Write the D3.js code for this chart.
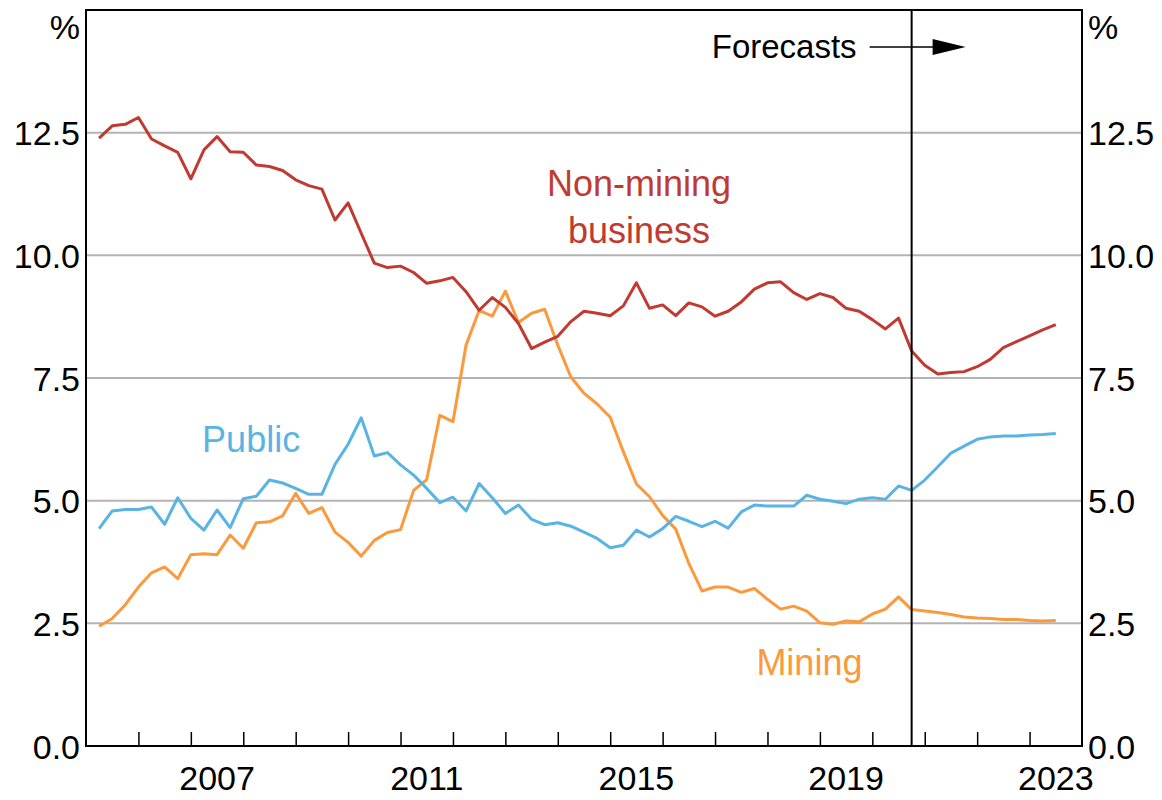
<!DOCTYPE html>
<html>
<head>
<meta charset="utf-8">
<script src="https://cdn.jsdelivr.net/npm/d3@7"></script>
<style>
  body { margin: 0; background: #fff; }
  svg { display: block; }
  text { font-family: "Liberation Sans", Arial, sans-serif; }
</style>
</head>
<body>
<svg id="chart" width="1162" height="800"></svg>
<script>
// Quarterly investment shares, % of GDP
const firstQuarter = 2005.25;   // position of the first observation
const forecastFrom = 2020.75;   // where the forecast period begins

const nonMining = [12.39, 12.64, 12.67, 12.81, 12.37, 12.23, 12.10, 11.56, 12.15, 12.42,
  12.11, 12.10, 11.84, 11.81, 11.73, 11.54, 11.42, 11.35, 10.72, 11.07,
  10.45, 9.84, 9.75, 9.78, 9.65, 9.43, 9.48, 9.55, 9.26, 8.88,
  9.14, 8.94, 8.61, 8.10, 8.23, 8.35, 8.65, 8.86, 8.82, 8.77,
  8.97, 9.44, 8.92, 8.99, 8.77, 9.03, 8.95, 8.76, 8.86, 9.05,
  9.31, 9.44, 9.46, 9.24, 9.10, 9.22, 9.14, 8.92, 8.86, 8.69,
  8.50, 8.72, 8.05, 7.76, 7.58, 7.61, 7.63, 7.73, 7.88, 8.12,
  8.24, 8.36, 8.48, 8.59];

const publicInv = [4.43, 4.79, 4.82, 4.82, 4.87, 4.52, 5.06, 4.64, 4.40, 4.81,
  4.45, 5.04, 5.09, 5.42, 5.36, 5.25, 5.13, 5.13, 5.74, 6.15,
  6.69, 5.91, 5.98, 5.73, 5.52, 5.25, 4.96, 5.07, 4.79, 5.35,
  5.06, 4.74, 4.91, 4.62, 4.51, 4.55, 4.48, 4.36, 4.23, 4.04,
  4.09, 4.40, 4.26, 4.43, 4.68, 4.58, 4.47, 4.58, 4.44, 4.77,
  4.91, 4.89, 4.89, 4.89, 5.11, 5.03, 4.99, 4.94, 5.03, 5.06,
  5.03, 5.30, 5.21, 5.42, 5.69, 5.97, 6.11, 6.25, 6.30, 6.32,
  6.32, 6.34, 6.35, 6.37];

const mining = [2.44, 2.60, 2.88, 3.24, 3.53, 3.65, 3.41, 3.90, 3.92, 3.90,
  4.30, 4.03, 4.55, 4.57, 4.69, 5.15, 4.74, 4.86, 4.36, 4.15,
  3.87, 4.19, 4.35, 4.41, 5.21, 5.43, 6.74, 6.61, 8.17, 8.88,
  8.76, 9.27, 8.63, 8.82, 8.90, 8.17, 7.52, 7.19, 6.97, 6.70,
  6.00, 5.34, 5.08, 4.70, 4.42, 3.72, 3.16, 3.24, 3.24, 3.13,
  3.21, 2.99, 2.79, 2.85, 2.75, 2.51, 2.48, 2.55, 2.53, 2.69,
  2.79, 3.04, 2.78, 2.75, 2.72, 2.68, 2.63, 2.61, 2.60, 2.58,
  2.58, 2.56, 2.55, 2.56];

const yTicks = [0, 2.5, 5, 7.5, 10, 12.5];
const yearLabels = [2007, 2011, 2015, 2019, 2023];

const colours = { nonMining: '#c13a31', publicInv: '#5ab4e3', mining: '#fa9a3d' };

// Layout
const svg = d3.select('#chart');
const margin = { left: 86, top: 10, right: 80, bottom: 54 };
const width = 1162 - margin.left - margin.right;   // 996
const height = 800 - margin.top - margin.bottom;   // 736

const x = d3.scaleLinear().domain([2005, 2024]).range([0, width]);
const y = d3.scaleLinear().domain([0, 15]).range([height, 0]);

const g = svg.append('g').attr('transform', `translate(${margin.left},${margin.top})`);

// gridlines
g.selectAll('.grid').data(yTicks.filter(d => d > 0)).join('line')
  .attr('class', 'grid')
  .attr('x1', 0).attr('x2', width)
  .attr('y1', d => y(d)).attr('y2', d => y(d))
  .attr('stroke', '#b3b3b3').attr('stroke-width', 2);

// series lines
const quarters = d3.range(nonMining.length).map(i => firstQuarter + i * 0.25);
const line = d3.line().x((d, i) => x(quarters[i])).y(d => y(d));

[['mining', mining], ['publicInv', publicInv], ['nonMining', nonMining]].forEach(([key, vals]) => {
  g.append('path').datum(vals)
    .attr('d', line)
    .attr('fill', 'none')
    .attr('stroke', colours[key])
    .attr('stroke-width', 3)
    .attr('stroke-linejoin', 'round');
});

// forecast divider
g.append('line')
  .attr('x1', x(forecastFrom)).attr('x2', x(forecastFrom))
  .attr('y1', 0).attr('y2', height)
  .attr('stroke', '#000').attr('stroke-width', 2);

// bottom axis: year ticks pointing in, labels centred in the year
const xAxis = d3.axisBottom(x)
  .tickValues(d3.range(2006, 2024))
  .tickSize(-14)
  .tickFormat('');
g.append('g').attr('transform', `translate(0,${height})`).call(xAxis)
  .call(a => a.select('.domain').remove())
  .call(a => a.selectAll('.tick line').attr('stroke', '#000').attr('stroke-width', 1.5));

g.selectAll('.year').data(yearLabels).join('text')
  .attr('class', 'year')
  .attr('x', d => x(d + 0.5))
  .attr('y', height + 44)
  .attr('text-anchor', 'middle')
  .attr('font-size', 34)
  .text(d => d);

// y axes on both sides
const fmt = d3.format('.1f');
g.append('g').call(d3.axisLeft(y).tickValues(yTicks).tickSize(0).tickPadding(6).tickFormat(fmt))
  .call(a => a.select('.domain').remove())
  .call(a => a.selectAll('text').attr('font-size', 34).attr('font-family', '"Liberation Sans", Arial, sans-serif').attr('fill', '#000').attr('dy', '0.36em'));
g.append('g').attr('transform', `translate(${width},0)`)
  .call(d3.axisRight(y).tickValues(yTicks).tickSize(0).tickPadding(6).tickFormat(fmt))
  .call(a => a.select('.domain').remove())
  .call(a => a.selectAll('text').attr('font-size', 34).attr('font-family', '"Liberation Sans", Arial, sans-serif').attr('fill', '#000').attr('dy', '0.36em'));

g.append('text').attr('x', -6).attr('y', 29).attr('text-anchor', 'end').attr('font-size', 34).text('%');
g.append('text').attr('x', width + 6).attr('y', 29).attr('text-anchor', 'start').attr('font-size', 34).text('%');

// frame
g.append('rect').attr('width', width).attr('height', height)
  .attr('fill', 'none').attr('stroke', '#000').attr('stroke-width', 2);

// series labels
const labels = [
  { text: 'Non-mining', x: 2015.55, yv: 11.2, key: 'nonMining' },
  { text: 'business', x: 2015.55, yv: 10.25, key: 'nonMining' },
  { text: 'Public', x: 2008.15, yv: 6.0, key: 'publicInv' },
  { text: 'Mining', x: 2018.8, yv: 1.44, key: 'mining' }
];
g.selectAll('.series-label').data(labels).join('text')
  .attr('class', 'series-label')
  .attr('x', d => x(d.x))
  .attr('y', d => y(d.yv))
  .attr('text-anchor', 'middle')
  .attr('font-size', 36)
  .attr('fill', d => colours[d.key])
  .text(d => d.text);

// forecasts annotation with arrow
const fx = x(forecastFrom);
g.append('text').attr('x', fx - 55).attr('y', 48).attr('text-anchor', 'end')
  .attr('font-size', 33).text('Forecasts');
g.append('line').attr('x1', fx - 42).attr('x2', fx + 24).attr('y1', 37).attr('y2', 37)
  .attr('stroke', '#000').attr('stroke-width', 1.5);
g.append('path')
  .attr('d', `M${fx + 21},${29} L${fx + 54},${37} L${fx + 21},${45} Z`)
  .attr('fill', '#000');
</script>
</body>
</html>
